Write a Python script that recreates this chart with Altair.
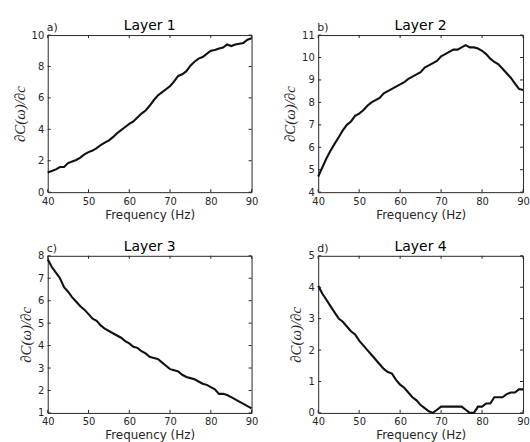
import altair as alt
import pandas as pd

freq = list(range(40, 91))

layer1 = [1.25, 1.35, 1.45, 1.6, 1.6, 1.85, 1.95, 2.05, 2.2, 2.4,
          2.55, 2.65, 2.8, 3.0, 3.15, 3.3, 3.5, 3.75, 3.95, 4.15,
          4.35, 4.5, 4.75, 5.0, 5.2, 5.5, 5.85, 6.15, 6.35, 6.55,
          6.75, 7.05, 7.4, 7.5, 7.7, 8.05, 8.3, 8.5, 8.6, 8.8,
          9.0, 9.05, 9.15, 9.2, 9.4, 9.3, 9.4, 9.45, 9.5, 9.7, 9.8]
layer2 = [4.7, 5.1, 5.5, 5.85, 6.15, 6.45, 6.75, 7.0, 7.15, 7.4,
          7.5, 7.65, 7.85, 8.0, 8.1, 8.2, 8.4, 8.5, 8.6, 8.7,
          8.8, 8.9, 9.05, 9.15, 9.25, 9.35, 9.55, 9.65, 9.75, 9.85,
          10.05, 10.15, 10.25, 10.35, 10.35, 10.45, 10.55, 10.45, 10.45, 10.4,
          10.3, 10.15, 9.95, 9.8, 9.7, 9.5, 9.3, 9.1, 8.85, 8.6, 8.55]
layer3 = [7.85, 7.5, 7.25, 7.0, 6.6, 6.4, 6.15, 5.95, 5.75, 5.6,
          5.4, 5.2, 5.1, 4.9, 4.75, 4.65, 4.55, 4.45, 4.35, 4.2,
          4.1, 3.95, 3.9, 3.75, 3.65, 3.5, 3.45, 3.4, 3.25, 3.1,
          2.95, 2.9, 2.85, 2.7, 2.6, 2.55, 2.5, 2.4, 2.3, 2.25,
          2.15, 2.05, 1.85, 1.85, 1.8, 1.7, 1.6, 1.5, 1.4, 1.3, 1.2]
layer4 = [4.05, 3.8, 3.6, 3.4, 3.2, 3.0, 2.9, 2.75, 2.6, 2.5,
          2.3, 2.15, 2.0, 1.85, 1.7, 1.55, 1.4, 1.3, 1.25, 1.05,
          0.9, 0.8, 0.65, 0.5, 0.4, 0.25, 0.15, 0.05, 0.0, 0.1,
          0.2, 0.2, 0.2, 0.2, 0.2, 0.2, 0.1, 0.0, 0.0, 0.2,
          0.2, 0.3, 0.3, 0.5, 0.5, 0.5, 0.6, 0.65, 0.65, 0.75, 0.75]

x_ticks = [40, 50, 60, 70, 80, 90]
y_ticks1 = [0, 2, 4, 6, 8, 10]
y_ticks2 = [4, 5, 6, 7, 8, 9, 10, 11]
y_ticks3 = [1, 2, 3, 4, 5, 6, 7, 8]
y_ticks4 = [0, 1, 2, 3, 4, 5]

AX = "#262626"
TICK = 3
EXT_L, EXT_T, EXT_R, EXT_B = 45, 24, 8, 36


def panel(values, letter, title, yticks, w, h, right_ext, bottom_ext):
    df = pd.DataFrame({"f": freq, "v": values})
    xs = alt.Scale(domain=[40, 90], nice=False, zero=False)
    ys = alt.Scale(domain=[yticks[0], yticks[-1]], nice=False, zero=False)
    xaxis = alt.Axis(values=x_ticks, ticks=False, grid=False, domain=False,
                     title="Frequency (Hz)", labelPadding=4, titlePadding=3,
                     labelFlush=False)
    yaxis = alt.Axis(values=yticks, ticks=False, grid=False, domain=False,
                     title="∂C(ω)/∂c", labelPadding=4, titlePadding=4)
    line = alt.Chart(df).mark_line(color="#111111", strokeWidth=2.1).encode(
        x=alt.X("f:Q", scale=xs, axis=xaxis),
        y=alt.Y("v:Q", scale=ys, axis=yaxis),
    )
    xt = pd.DataFrame({"f": x_ticks})
    yt = pd.DataFrame({"v": yticks})
    rule_kw = dict(color=AX, strokeWidth=1)
    bx = alt.Chart(xt).mark_rule(**rule_kw).encode(
        x=alt.X("f:Q", scale=xs, axis=xaxis), y=alt.value(h), y2=alt.value(h - TICK))
    tx = alt.Chart(xt).mark_rule(**rule_kw).encode(
        x=alt.X("f:Q", scale=xs, axis=xaxis), y=alt.value(0), y2=alt.value(TICK))
    ly = alt.Chart(yt).mark_rule(**rule_kw).encode(
        y=alt.Y("v:Q", scale=ys, axis=yaxis), x=alt.value(0), x2=alt.value(TICK))
    ry = alt.Chart(yt).mark_rule(**rule_kw).encode(
        y=alt.Y("v:Q", scale=ys, axis=yaxis), x=alt.value(w), x2=alt.value(w - TICK))
    lab = alt.Chart(pd.DataFrame({"t": [letter]})).mark_text(
        align="left", baseline="alphabetic", font="DejaVu Sans", fontSize=11,
        color=AX).encode(text="t:N", x=alt.value(-1), y=alt.value(-4))
    ttl = alt.Chart(pd.DataFrame({"t": [title]})).mark_text(
        align="center", baseline="alphabetic", font="DejaVu Sans", fontSize=14,
        color="#000000").encode(text="t:N", x=alt.value(w / 2), y=alt.value(-5))
    # invisible spacer fixing the panel's layout bounds
    spacer = alt.Chart(pd.DataFrame({"t": [0]})).mark_rule(
        strokeOpacity=0, strokeWidth=0).encode(
        x=alt.value(-EXT_L), x2=alt.value(w + right_ext),
        y=alt.value(-EXT_T), y2=alt.value(h + bottom_ext))
    return alt.layer(line, bx, tx, ly, ry, lab, ttl, spacer).properties(width=w, height=h)


W1, W2, H = 205, 206, 158
pa = panel(layer1, "a)", "Layer 1", y_ticks1, W1, H, EXT_R, EXT_B)
pb = panel(layer2, "b)", "Layer 2", y_ticks2, W2, H, 0, EXT_B)
pc = panel(layer3, "c)", "Layer 3", y_ticks3, W1, H, EXT_R, 0)
pd_ = panel(layer4, "d)", "Layer 4", y_ticks4, W2, H, 0, 0)

chart = alt.vconcat(
    alt.hconcat(pa, pb, spacing=12),
    alt.hconcat(pc, pd_, spacing=12),
    spacing=2,
).properties(
    padding={"left": 2, "top": 9, "right": 0, "bottom": 0},
    background="white",
).configure_view(
    stroke=AX, strokeWidth=1
).configure_axis(
    labelFont="DejaVu Sans", labelFontSize=10, labelColor=AX,
    titleFont="DejaVu Sans", titleFontSize=12, titleColor=AX, titleFontWeight="normal",
).configure_axisY(
    titleFont="Liberation Serif", titleFontStyle="italic", titleFontSize=15,
)

chart.save("out.html", embed_options={"renderer": "svg", "actions": False})
